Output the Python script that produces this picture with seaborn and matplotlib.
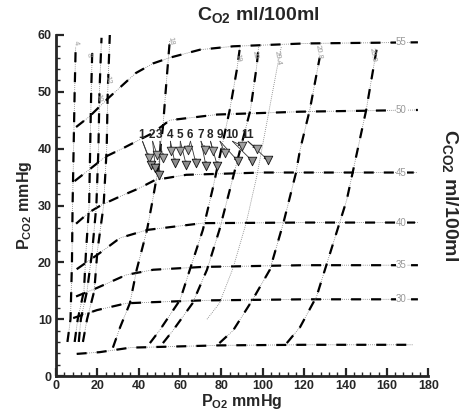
import seaborn as sns
import matplotlib.pyplot as plt
from matplotlib.ticker import MultipleLocator

sns.set_style("ticks")
plt.rcParams['font.family'] = ['Liberation Sans', 'DejaVu Sans']
plt.rcParams['font.weight'] = 'bold'
plt.rcParams['axes.labelweight'] = 'bold'
plt.rcParams['mathtext.fontset'] = 'custom'
plt.rcParams['mathtext.rm'] = 'Liberation Sans:bold'
plt.rcParams['mathtext.bf'] = 'Liberation Sans:bold'
plt.rcParams['mathtext.it'] = 'Liberation Sans:bold'

# C_CO2 isopleths (ml/100ml), PO2 / PCO2 in mmHg
h_base_x = [10, 21, 36, 79, 120, 173]
h_base_y = [3.9, 4.2, 5.0, 5.4, 5.5, 5.5]
h30_x = [8.3, 19.8, 34, 47, 70, 120, 175]
h30_y = [10.2, 11.6, 12.8, 13.0, 13.3, 13.5, 13.5]
h35_x = [9.7, 19.8, 34, 47, 71, 120, 175]
h35_y = [14.0, 15.5, 17.8, 18.7, 19.2, 19.5, 19.5]
h40_x = [10, 21, 31, 44, 71, 120, 175]
h40_y = [18.8, 21.6, 24.3, 25.7, 26.9, 27.0, 27.0]
h45_x = [9.7, 16, 22, 31, 40, 48, 63, 100, 175]
h45_y = [26.8, 28.8, 30.1, 31.6, 33.0, 34.5, 35.4, 35.8, 35.8]
h50_x = [9, 16, 24, 32, 47, 55, 78, 118, 175]
h50_y = [34.3, 36.3, 38.6, 40.0, 42.8, 45.0, 46.0, 46.5, 46.8]
h55_x = [9.7, 16, 25.6, 38.6, 47, 55, 69.6, 85.6, 120, 175]
h55_y = [43.8, 45.6, 49.0, 53.3, 55.0, 56.0, 57.4, 58.0, 58.5, 58.7]
h_labels = ["30", "35", "40", "45", "50", "55"]

# C_O2 isopleths (ml/100ml)
v0_x = [5.5, 7, 7.7, 8, 8.5, 9, 9.5]
v0_y = [6, 10, 20, 30, 40, 50, 58]
v1_x = [9, 10.5, 13.5, 14.5, 16, 16.5, 17, 17.5]
v1_y = [6, 10, 15, 22, 30, 40, 50, 57]
v2_x = [11, 12, 15, 17.5, 19.5, 20.5, 21, 22]
v2_y = [6, 10, 15, 22, 30, 40, 50, 59.5]
v3_x = [13, 15, 18.5, 20, 23, 24.5, 25, 26]
v3_y = [6, 10, 15, 22, 30, 40, 50, 60]
v4_x = [27.5, 31, 35.7, 39, 44, 47, 49, 51.7, 53, 55]
v4_y = [5, 8.6, 12.8, 18.7, 25.7, 31.5, 35.7, 43.8, 50, 59]
v5_x = [45.4, 50, 60, 64.7, 71, 76, 84, 87.5, 89]
v5_y = [5.8, 8, 13.4, 18.7, 25.7, 33.3, 46.8, 54, 58]
v6_x = [51.7, 56.5, 66, 73, 79, 84, 94, 97, 98]
v6_y = [5.8, 8, 12.8, 18.7, 25.7, 32.7, 46.8, 54.4, 58]
v7_x = [73, 79, 85.6, 92, 97, 107, 109]
v7_y = [10, 12.8, 19, 27, 35, 54.4, 58]
v8_x = [79, 85.6, 95, 103.4, 110, 116, 118, 122.7, 127.5]
v8_y = [5.8, 8, 13.4, 18.7, 27, 35.7, 39.8, 46.8, 56]
v9_x = [111.6, 118, 126, 140.6, 150, 155]
v9_y = [5.8, 8.6, 14, 31, 46.8, 57.4]
v_labels = ["4", "8", "10", "12", "18", "19", "20", "20.4", "20.8", "20.9"]
v_lab_x = [9.7, 15.5, 20.8, 25, 55.5, 88, 96, 107, 127, 153]
v_lab_y = [58.6, 56.5, 49, 52, 59, 56, 56.5, 56, 57, 56.5]

# numbered cases
case_ids = ["1", "2", "3", "4", "5", "6", "7", "8", "9", "10", "11"]
case_x = [41.5, 46.4, 50, 55, 59.8, 64.7, 69.8, 74.4, 79, 85, 92.5]
upper_x = [45, 49, 51.7, 55.5, 60, 63.8, 72, 75.8, 81.6, 90, 97]
upper_y = [38.4, 38.8, 38.4, 39.6, 39.6, 39.8, 39.8, 39.6, 39.3, 40.5, 40.0]
lower_x = [46, 48, 50, 57.5, 63, 67.6, 72.5, 78, 88, 95, 102.4]
lower_y = [37.1, 36.6, 35.4, 37.5, 37.1, 37.5, 37.0, 37.0, 37.8, 37.8, 38.0]

hcurves = [(h_base_x, h_base_y), (h30_x, h30_y), (h35_x, h35_y), (h40_x, h40_y),
           (h45_x, h45_y), (h50_x, h50_y), (h55_x, h55_y)]
vcurves = [(v0_x, v0_y), (v1_x, v1_y), (v2_x, v2_y), (v3_x, v3_y), (v4_x, v4_y),
           (v5_x, v5_y), (v6_x, v6_y), (v7_x, v7_y), (v8_x, v8_y), (v9_x, v9_y)]

fig = plt.figure(figsize=(4.67, 4.11), dpi=100)
ax = fig.add_axes([0.12, 0.085, 0.797, 0.83])

for xs, ys in hcurves + vcurves:
    sns.lineplot(x=xs, y=ys, sort=False, estimator=None, color='#777777',
                 lw=0.6, linestyle=(0, (1, 1.5)), ax=ax)
    if xs is not v7_x:
        sns.lineplot(x=xs, y=ys, sort=False, estimator=None, color='black',
                     lw=1.6, linestyle=(0, (4.5, 4.5)), ax=ax)

for lab, (xs, ys) in zip(h_labels, hcurves[1:]):
    ax.text(167, ys[-1], lab, color='#999999', fontsize=7, fontweight='normal',
            ha='center', va='center',
            bbox=dict(facecolor='white', edgecolor='none', pad=0.3))

for lab, x, y in zip(v_labels, v_lab_x, v_lab_y):
    ax.text(x, y, lab, color='#999999', fontsize=5.5, fontweight='normal',
            rotation=-80, ha='center', va='center')

for cid, cx, ux, uy, lx, ly in zip(case_ids, case_x, upper_x, upper_y, lower_x, lower_y):
    ax.text(cx, 42.4, cid, fontsize=8.5, fontweight='bold', ha='center', va='center')
    for tx, ty in [(ux, uy), (lx, ly)]:
        ax.annotate("", xy=(tx, ty), xytext=(cx + 0.3, 41.3),
                    arrowprops=dict(arrowstyle='-|>', lw=0.6, color='#333333',
                                    mutation_scale=5, shrinkA=0, shrinkB=0))

sns.scatterplot(x=upper_x, y=upper_y, marker='v', s=38, color='#a0a0a0',
                edgecolor='#222222', linewidth=0.6, zorder=5, ax=ax)
sns.scatterplot(x=lower_x, y=lower_y, marker='v', s=38, color='#8c8c8c',
                edgecolor='#111111', linewidth=0.6, zorder=5, ax=ax)

ax.set_xlim(0, 180)
ax.set_ylim(0, 60)
ax.xaxis.set_major_locator(MultipleLocator(20))
ax.xaxis.set_minor_locator(MultipleLocator(4))
ax.yaxis.set_major_locator(MultipleLocator(10))
ax.yaxis.set_minor_locator(MultipleLocator(2))
ax.tick_params(which='major', direction='in', length=6, width=1.6, labelsize=9, pad=3)
ax.tick_params(which='minor', direction='in', length=3, width=1.0)
for t in ax.get_xticklabels() + ax.get_yticklabels():
    t.set_fontweight('bold')
sns.despine(ax=ax)
for s in ['left', 'bottom']:
    ax.spines[s].set_linewidth(2)

ax.set_xlabel(r'P$_{\rm O2}$ mmHg', fontsize=11.5, fontweight='bold', labelpad=0)
ax.set_ylabel(r'P$_{\rm CO2}$ mmHg', fontsize=11.5, fontweight='bold', labelpad=3)
fig.text(258 / 467, 1 - 15 / 411, r'C$_{\rm O2}$ ml/100ml', ha='center', va='center',
         fontsize=14, fontweight='bold')
fig.text(450 / 467, 1 - 195 / 411, r'C$_{\rm CO2}$ ml/100ml', rotation=270,
         ha='center', va='center', fontsize=14, fontweight='bold')

fig.savefig('out.png', dpi=100)
